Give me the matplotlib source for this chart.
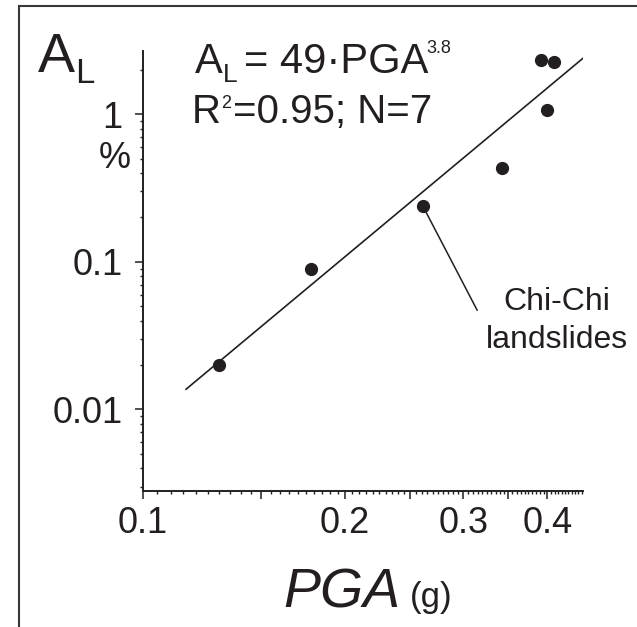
import numpy as np
import matplotlib
matplotlib.use("Agg")
import matplotlib.pyplot as plt
from matplotlib.ticker import FixedLocator, FixedFormatter, NullFormatter, LogLocator
from matplotlib.patches import Rectangle

plt.rcParams['font.family'] = ['Liberation Sans', 'DejaVu Sans']

# landslide area vs peak ground acceleration
pga = [0.130, 0.178, 0.261, 0.343, 0.392, 0.399, 0.409]
area = [0.020, 0.090, 0.240, 0.430, 2.35, 1.07, 2.25]

# fitted line A_L = 49*PGA^3.8, end points
fit_pga = [0.116, 0.452]
fit_area = [0.0137, 2.40]

# leader line from the Chi-Chi point to its label
leader_pga = [0.261, 0.3145]
leader_area = [0.240, 0.0471]

x_major = [0.1, 0.15, 0.2, 0.25, 0.3, 0.35, 0.4]
x_labels = ['0.1', '', '0.2', '', '0.3', '', '0.4']
y_major = [0.01, 0.1, 1]
y_labels = ['0.01', '0.1', '1']

ink = '#231f20'
W, H = 637, 627

fig = plt.figure(figsize=(W / 100, H / 100), dpi=100)
ax = fig.add_axes([142.7 / W, 1 - 491 / H, (583 - 142.7) / W, (491 - 50.7) / H])

def px(x, y):
    return x / W, 1 - y / H

ax.plot(fit_pga, fit_area, color=ink, lw=1.2)
ax.plot(leader_pga, leader_area, color=ink, lw=1.1)
ax.plot(pga, area, 'o', color=ink, ms=8.5, mec=ink)

ax.set_xscale('log')
ax.set_yscale('log')
ax.set_xlim(0.1, 0.452)
ax.set_ylim(0.0028, 2.7)

x_minor = [round(0.1 + 0.005 * i, 3) for i in range(71)]
x_minor = [v for v in x_minor if not any(abs(v - m) < 1e-9 for m in x_major)]
ax.xaxis.set_major_locator(FixedLocator(x_major))
ax.xaxis.set_major_formatter(FixedFormatter(x_labels))
ax.xaxis.set_minor_locator(FixedLocator(x_minor))
ax.xaxis.set_minor_formatter(NullFormatter())
ax.yaxis.set_major_locator(FixedLocator(y_major))
ax.yaxis.set_major_formatter(FixedFormatter(y_labels))
ax.yaxis.set_minor_locator(LogLocator(base=10, subs=np.arange(2, 10)))
ax.yaxis.set_minor_formatter(NullFormatter())

for s in ['top', 'right']:
    ax.spines[s].set_visible(False)
for s in ['left', 'bottom']:
    ax.spines[s].set_linewidth(1.4)
    ax.spines[s].set_color(ink)

ax.tick_params(which='major', length=5.5, width=1.1, color=ink, labelsize=26,
               labelcolor=ink)
ax.tick_params(which='minor', length=2.5, width=1.0, color=ink)
ax.tick_params(axis='y', which='major', pad=9)
ax.tick_params(axis='x', which='major', pad=5)

# frame around the whole panel (right and bottom edges fall outside)
fig.patches.append(Rectangle((19 / W, -0.2), 1.2, 0.2 + 1 - 5.7 / H,
                             transform=fig.transFigure, fill=False,
                             ec='#3a3634', lw=1.5, clip_on=False))

# A_L in the corner
fig.text(*px(38, 72), 'A', size=40, color=ink, va='baseline')
fig.text(*px(75.5, 83), 'L', size=25, color=ink, va='baseline')

# equation
fig.text(*px(195, 73), 'A', size=30, color=ink, va='baseline')
fig.text(*px(223, 82), 'L', size=19, color=ink, va='baseline')
fig.text(*px(243.6, 73), '= 49\u00b7PGA', size=30, color=ink, va='baseline')
fig.text(*px(426, 53), '3.8', size=13, color=ink, va='baseline')
fig.text(*px(192, 123), 'R', size=29, color=ink, va='baseline')
fig.text(*px(221.5, 108), '2', size=13, color=ink, va='baseline')
fig.text(*px(233, 123), '=0.95; N=7', size=29, color=ink, va='baseline')

# unit of the y axis
fig.text(*px(98.5, 168), '%', size=26, color=ink, va='baseline')

# x axis title
fig.text(*px(283, 608), 'PGA', size=40, style='italic', color=ink, va='baseline')
fig.text(*px(410, 607), '(g)', size=25, color=ink, va='baseline')

# Chi-Chi label
fig.text(*px(557, 310), 'Chi-Chi', size=23, color=ink, va='baseline', ha='center')
fig.text(*px(557, 348), 'landslides', size=23, color=ink, va='baseline', ha='center')

fig.savefig('out.png', dpi=100)
